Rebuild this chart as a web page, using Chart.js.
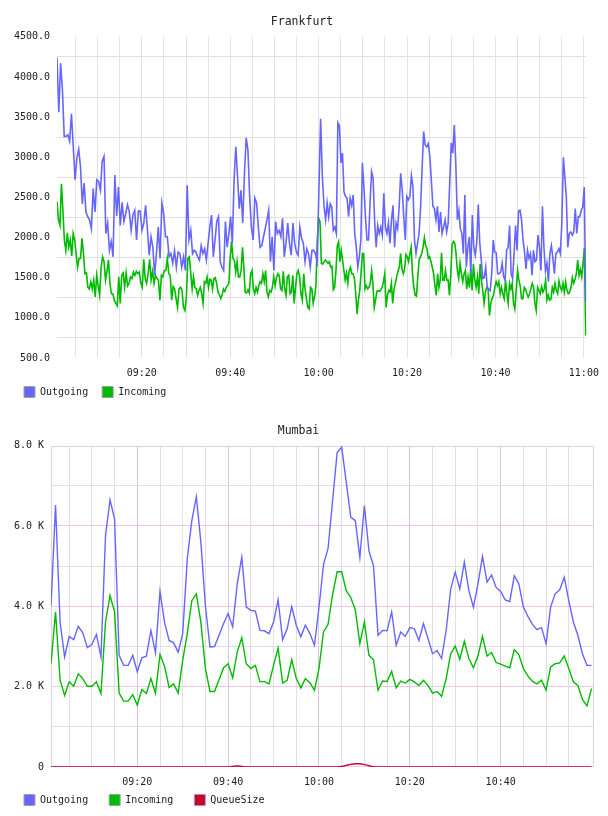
<!DOCTYPE html>
<html><head><meta charset="utf-8">
<script src="https://cdn.jsdelivr.net/npm/chart.js@4.4.0/dist/chart.umd.min.js"></script>
<style>
html,body{margin:0;padding:0;background:#fff;width:608px;height:816px;overflow:hidden;}
.wrap{position:absolute;left:0;width:608px;}
#w1{top:0;height:415px;}
#w2{top:405px;height:426px;}
</style></head><body>
<div class="wrap" id="w1"><canvas id="c1"></canvas></div>
<div class="wrap" id="w2"><canvas id="c2"></canvas></div>
<script>
// ---------- shared ----------
const seriesNames = ['Outgoing', 'Incoming', 'QueueSize'];
const seriesColors = ['#6666ff', '#00bb00', '#cc0033'];

// ---------- Frankfurt (samples, in four stretches) ----------
const frTitle = 'Frankfurt';
const frStretchStarts = ['09:00:49', '09:31:05', '10:01:14', '10:31:23'];
const frLastSample = '11:00:25';
const frAxisRange = ['09:00:49', '11:00:35'];
const frTickLabels = ['09:20', '09:40', '10:00', '10:20', '10:40', '11:00'];
const frYLabels = [500, 1000, 1500, 2000, 2500, 3000, 3500, 4000, 4500];

const frOutgoing = [
 [4240,3560,4170,3840,3260,3260,3280,3200,3540,3130,2720,2990,3100,2880,2420,2680,2320,2260,2220,2110,
  2610,2320,2720,2700,2590,2950,3010,2050,2180,1840,1950,1760,2780,2270,2630,2150,2440,2200,2300,2410,
  2320,2090,2280,2340,1970,2330,2330,2090,2180,2400,2110,1780,2010,1880,1530,1800,2130,1740,2430,2300,
  2010,2010,1760,1800,1680,1840,1630,1820,1800,1630,1760,1590,2650,1970],
 [2090,1800,1840,1820,1760,1720,1900,1800,1860,1720,1930,2130,2280,1760,1970,2200,2260,1700,1630,1590,
  2200,1880,2050,2260,1930,2720,3130,2760,2360,2590,2180,2800,3240,3090,2510,2130,1970,2490,2430,2130,
  1880,1900,2010,2110,2220,2340,1700,2010,1590,2200,2050,2090,2010,2240,1760,1930,2180,1930,1780,2180,
  1930,1820,1780,2130,1990,1930,1700,1860,1800,1630,1840,1840,1800,1700,2590,3480,2760],
 [2380,2220,2430,2260,2420,2380,2090,2130,2050,3430,3390,2930,3050,2570,2510,2490,2260,2490,2400,2530,
  2050,1880,1630,1760,1970,2930,2630,2260,1970,1970,2430,2820,2740,2200,1880,2150,2050,2130,2030,2550,
  2130,2050,2180,1930,2220,2400,1880,2180,2110,2380,2800,2590,2260,1970,2510,2470,2510,2770,2630,1970,
  1800,1930,2050,2380,2880,3320,3150,3130,3170,3010,2720,2390,2360,2220,2390,2070,2320,2050,2130,2220,
  2070,2180,2680,3180,3050,3400,2900],
 [2220,2340,2110,2050,1800,2530,1630,1880,2010,1550,2280,1880,1780,1940,2410,1930,1720,1490,1500,1630,
  1380,1360,1340,1550,1970,1820,1810,1550,1550,1570,1680,1510,1470,1840,1880,2150,1550,1490,1800,2150,
  1840,2330,2340,2220,1970,1820,1610,1840,1740,1800,1530,1840,1700,1720,2030,1880,1590,2390,1880,1590,
  1680,1450,1800,1900,1740,1550,1800,1820,1860,1800,2180,3000,2760,2510,1880,2050,2070,2030,2070,2360,
  2050,2260,2260,2340,2380,2630,1200]
];
const frIncoming = [
 [2450,2220,2150,2670,2340,1970,1840,2060,1880,1970,1770,2050,1970,1800,1630,1740,1740,1990,1800,1550,
  1560,1380,1360,1450,1360,1470,1260,1530,1400,1280,1630,1760,1700,1470,1580,1720,1430,1300,1300,1220,
  1180,1150,1510,1180,1530,1560,1380,1560,1400,1430,1510,1490,1570,1530,1580,1550,1570,1430,1380,1730,
  1490,1430,1550,1730,1470,1580,1430,1530,1490,1470,1220,1530,1510,1590,1590,1740,1550,1530,1220,1390,
  1360,1240,1130,1360,1380,1350,1130,1090,1260,1740,1760],
 [1550,1360,1510,1380,1360,1280,1340,1380,1300,1180,1450,1430,1510,1380,1480,1470,1360,1490,1500,1430,
  1320,1290,1240,1280,1360,1330,1380,1400,1430,1760,1950,1740,1720,1570,1700,1510,1510,1590,1880,1630,
  1320,1310,1350,1310,1550,1590,1360,1300,1380,1320,1400,1450,1430,1550,1450,1590,1320,1260,1340,1320,
  1380,1510,1400,1500,1550,1530,1360,1340,1580,1360,1280,1510,1530,1300,1320,1530,1180,1380,1550,1590,
  1510,1300,1220,1550,1360,1240,1130,1110,1380,1360,1180,1260,1400,1970,2240,2200,1680,1670],
 [1700,1720,1700,1680,1700,1630,1640,1350,1380,1590,1900,1950,1700,1840,1720,1590,1470,1560,1430,1580,
  1630,1550,1550,1490,1300,1050,1220,1340,1550,1800,1800,1360,1400,1360,1380,1430,1590,1430,1130,1220,
  1330,1340,1330,1350,1380,1450,1550,1130,1280,1340,1320,1430,1180,1360,1430,1510,1580,1630,1800,1610,
  1550,1610,1790,1760,1700,1800,1880,1550,1380,1280,1270,1510,1720,1760,1800,1880,2000,1900,1860,1740,
  1760,1700,1630,1550,1400,1280,1550,1380,1470,1810,1470,1470,1590,1470,1470,1280,1550,1910,1950,1930,
  1800],
 [1590,1490,1680,1550,1450,1550,1590,1360,1510,1380,1610,1340,1670,1480,1380,1510,1300,1670,1470,1340,
  1180,1320,1380,1360,1030,1180,1240,1280,1380,1450,1400,1450,1300,1380,1300,1240,1470,1300,1180,1430,
  1360,1430,1180,1110,1340,1590,1470,1400,1240,1240,1380,1360,1300,1260,1300,1360,1430,1380,1180,1090,
  1380,1340,1300,1390,1320,1360,1470,1220,1280,1220,1230,1380,1320,1430,1340,1300,1460,1380,1340,1430,
  1320,1450,1340,1300,1320,1380,1500,1430,1480,1550,1720,1530,1600,1510,1680,1870,780]
];

// ---------- Mumbai (one sample per minute) ----------
const mbTitle = 'Mumbai';
const mbFirstSample = '09:01';
const mbStepMinutes = 1;
const mbAxisRange = ['09:01:00', '11:00:33'];
const mbTickLabels = ['09:20', '09:40', '10:00', '10:20', '10:40'];
const mbYLabels = [0, 2000, 4000, 6000, 8000];

const mbOutgoing = [
 4000,6520,3600,2740,3250,3170,3500,3340,2970,3050, 3300,2740,5760,6650,6170,2780,2530,2530,2780,2370,
 2720,2760,3400,2840,4370,3600,3150,3090,2860,3320, 5180,6130,6730,5590,4000,2990,3000,3280,3570,3820,
 3490,4550,5220,3980,3900,3880,3400,3390,3320,3610, 4160,3170,3440,3990,3530,3240,3530,3320,3030,3970,
 5040,5440,6630,7830,7960,7090,6220,6130,5220,6510, 5380,5010,3280,3400,3390,3860,3030,3360,3250,3470,
 3440,3150,3570,3200,2820,2900,2700,3400,4430,4850, 4430,5100,4390,3980,4560,5240,4600,4780,4470,4370,
 4160,4120,4760,4560,3980,3750,3550,3420,3470,3070, 3980,4310,4410,4720,4140,3610,3280,2820,2530,2530
];
const mbIncoming = [
 2570,3860,2160,1780,2120,2010,2320,2200,2010,2010, 2120,1830,3610,4270,3860,1840,1640,1640,1800,1540,
 1930,1830,2200,1840,2800,2510,1980,2070,1840,2660, 3320,4140,4310,3600,2450,1880,1880,2170,2470,2570,
 2220,2860,3220,2570,2450,2530,2120,2130,2070,2530, 2960,2090,2160,2670,2200,1970,2200,2100,1910,2450,
 3360,3550,4300,4860,4860,4390,4220,3910,3070,3610, 2780,2670,1910,2140,2130,2380,1970,2140,2090,2180,
 2120,2030,2160,2030,1840,1880,1760,2200,2820,3010, 2680,3130,2700,2470,2760,3250,2760,2850,2600,2560,
 2510,2470,2920,2800,2450,2260,2130,2070,2160,1910, 2490,2570,2590,2760,2450,2120,2030,1680,1520,1950
];
const mbQueueSize = [
 0,0,0,0,0,0,0,0,0,0, 0,0,0,0,0,0,0,0,0,0, 0,0,0,0,0,0,0,0,0,0, 0,0,0,0,0,0,0,0,0,0,
 15,25,15,0,0,0,0,0,0,0, 0,0,0,0,0,0,0,0,0,0, 0,0,0,0,15,40,65,80,80,60,
 30,10,0,0,0,0,0,0,0,0, 0,0,0,0,0,0,0,0,0,0, 0,0,0,0,0,0,0,0,0,0, 0,0,0,0,0,0,0,0,0,0,
 0,0,0,0,0,0,0,0,0,0
];

// ---------- helpers ----------
function toMin(s) { // minutes after 09:00
  const p = s.split(':').map(Number);
  return (p[0] - 9) * 60 + p[1] + (p[2] || 0) / 60;
}
function fmtMin(m) {
  const t = Math.round(m);
  const h = 9 + Math.floor(t / 60), mm = t % 60;
  return String(h).padStart(2, '0') + ':' + String(mm).padStart(2, '0');
}
function stretchPoints(stretches, starts, last) {
  const st = starts.map(toMin), end = toMin(last), pts = [];
  stretches.forEach((vals, s) => {
    const isLast = s === stretches.length - 1;
    const a = st[s], b = isLast ? end : st[s + 1];
    const n = isLast ? vals.length - 1 : vals.length;
    vals.forEach((v, j) => pts.push({x: a + (b - a) * j / n, y: v}));
  });
  return pts;
}
function stepPoints(vals, first, step) {
  const a = toMin(first);
  return vals.map((v, i) => ({x: a + i * step, y: v}));
}

const MONO = "'DejaVu Sans Mono', monospace";

const frameBorder = {
  id: 'frameBorder',
  beforeDatasetsDraw(chart, args, opts) {
    if (!opts.color) return;
    const a = chart.chartArea, c = chart.ctx;
    c.save(); c.strokeStyle = opts.color; c.lineWidth = 1;
    c.strokeRect(Math.round(a.left) + 0.5, Math.round(a.top) + 0.5,
                 Math.round(a.right - a.left) - 1, Math.round(a.bottom - a.top) - 1);
    c.restore();
  }
};
// moves the legend row so its items are centred on the requested line
const legendPlace = {
  id: 'legendPlace',
  afterLayout(chart, args, opts) {
    const L = chart.legend;
    if (!L || opts.centerY == null) return;
    const cur = L.top + opts.padding + opts.itemHeight / 2;
    const dy = opts.centerY - cur;
    L.top += dy; L.bottom += dy;
  }
};

function makeChart(canvas, cfg) {
  const xMin = toMin(cfg.xRange[0]), xMax = toMin(cfg.xRange[1]);
  const labelSet = new Set(cfg.tickLabels);
  return new Chart(canvas, {
    type: 'line',
    data: {datasets: cfg.datasets.map((d, i) => ({
      label: seriesNames[i], data: d.points,
      borderColor: seriesColors[i], backgroundColor: seriesColors[i],
      borderWidth: cfg.lineWidth, pointRadius: 0, pointHoverRadius: 0,
      tension: d.smooth ? 0.4 : 0, cubicInterpolationMode: d.smooth ? 'monotone' : 'default',
      fill: false
    }))},
    plugins: [frameBorder, legendPlace],
    options: {
      responsive: true, maintainAspectRatio: false, animation: false, devicePixelRatio: 1,
      parsing: false, events: [],
      layout: {padding: cfg.padding},
      plugins: {
        frameBorder: {color: cfg.frameColor},
        legendPlace: {centerY: cfg.legendCenterY, padding: cfg.legendPadding, itemHeight: 11},
        tooltip: {enabled: false},
        title: {display: true, text: cfg.title, color: '#222',
                font: {family: MONO, size: 11.5, weight: 'normal', lineHeight: 1.2}, padding: cfg.titlePadding},
        legend: {display: true, position: 'bottom', align: 'start',
          labels: {boxWidth: 11, boxHeight: 11, padding: cfg.legendPadding, color: '#222',
            font: {family: MONO, size: 10},
            generateLabels: (ch) => ch.data.datasets.map((ds, i) => ({
              text: ds.label, fillStyle: ds.borderColor, strokeStyle: '#a0a0a0',
              lineWidth: 1, hidden: false, datasetIndex: i, fontColor: '#222'}))}}
      },
      scales: {
        x: {type: 'linear', min: xMin, max: xMax,
          afterFit: s => { s.height = cfg.xAxisHeight; },
          afterBuildTicks: s => {
            const t = [];
            for (let m = Math.ceil(xMin / 5) * 5; m <= xMax - cfg.xEdgeGap; m += 5) t.push({value: m});
            s.ticks = t;
          },
          border: {display: false},
          grid: {drawTicks: false, lineWidth: 1,
            color: c => cfg.xGridColor(c.tick.value, labelSet.has(fmtMin(c.tick.value)))},
          ticks: {padding: cfg.xTickPadding, autoSkip: false, maxRotation: 0, color: '#222',
            font: {family: MONO, size: 10},
            callback: v => labelSet.has(fmtMin(v)) && Math.abs(v % 20) < 1e-6 ? fmtMin(v) : ''}
        },
        y: {type: 'linear', min: cfg.yMin, max: cfg.yMax,
          afterFit: s => { s.width = cfg.yAxisWidth; },
          afterBuildTicks: s => {
            const t = [];
            for (let v = cfg.yMin; v <= cfg.yMax; v += cfg.yStep) t.push({value: v});
            s.ticks = t;
          },
          border: {display: false},
          grid: {drawTicks: false, lineWidth: 1,
            color: c => cfg.yGridColor(c.tick.value, cfg.yLabels.includes(c.tick.value))},
          ticks: {padding: 7, autoSkip: false, color: '#222', font: {family: MONO, size: 10},
            callback: v => cfg.yLabels.includes(v) ? cfg.yFormat(v) : ''}
        }
      }
    }
  });
}

// ---------- Frankfurt ----------
makeChart(document.getElementById('c1'), {
  title: frTitle,
  titlePadding: {top: 15, bottom: 8},
  padding: {left: 10, right: 14, top: 0, bottom: 0},
  legendPadding: 14, legendCenterY: 392,
  xRange: frAxisRange, tickLabels: frTickLabels, xEdgeGap: 0,
  yMin: 500, yMax: 4500, yStep: 250, yLabels: frYLabels,
  yFormat: v => v.toFixed(1),
  yAxisWidth: 47, xAxisHeight: 22, xTickPadding: 9,
  lineWidth: 1.6,
  frameColor: null,
  xGridColor: () => '#e3e3e3',
  yGridColor: (v, labelled) => labelled ? 'rgba(0,0,0,0)' : '#e0e0e0',
  datasets: [
    {points: stretchPoints(frOutgoing, frStretchStarts, frLastSample)},
    {points: stretchPoints(frIncoming, frStretchStarts, frLastSample)}
  ]
});

// ---------- Mumbai ----------
makeChart(document.getElementById('c2'), {
  title: mbTitle,
  titlePadding: {top: 19, bottom: 7.8},
  padding: {left: 3, right: 14, top: 0, bottom: 0},
  legendPadding: 21, legendCenterY: 395,
  xRange: mbAxisRange, tickLabels: mbTickLabels, xEdgeGap: 1,
  yMin: 0, yMax: 8000, yStep: 1000, yLabels: mbYLabels,
  yFormat: v => v === 0 ? '0' : (v / 1000).toFixed(1) + ' K',
  yAxisWidth: 48, xAxisHeight: 22, xTickPadding: 9,
  lineWidth: 1.4,
  frameColor: '#e6cce6',
  xGridColor: (v, major) => major ? '#dcc4dc' : '#e4dee4',
  yGridColor: (v, labelled) => (v === 0 || v === 8000) ? 'rgba(0,0,0,0)' : (labelled ? '#ebc8eb' : '#e4dce4'),
  datasets: [
    {points: stepPoints(mbOutgoing, mbFirstSample, mbStepMinutes)},
    {points: stepPoints(mbIncoming, mbFirstSample, mbStepMinutes)},
    {points: stepPoints(mbQueueSize, mbFirstSample, mbStepMinutes), smooth: true}
  ]
});
</script>
</body></html>
